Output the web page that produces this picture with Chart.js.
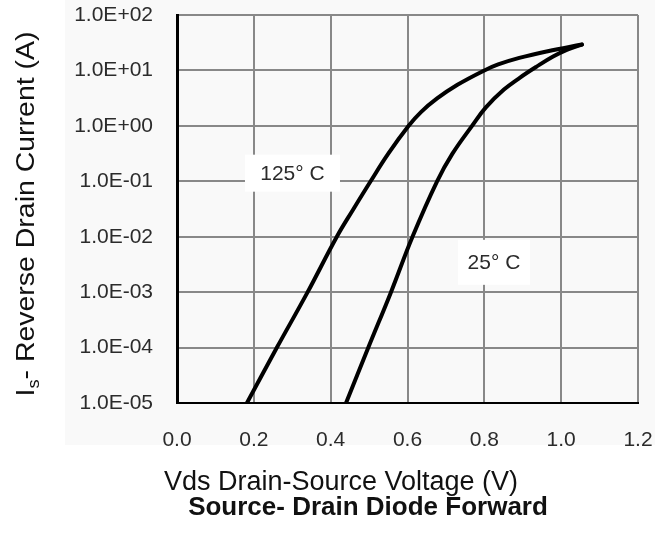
<!DOCTYPE html>
<html>
<head>
<meta charset="utf-8">
<title>Source- Drain Diode Forward</title>
<script src="https://cdn.jsdelivr.net/npm/chart.js@4.4.1/dist/chart.umd.min.js"></script>
<style>
  html, body { margin: 0; padding: 0; background: #fff; }
  canvas { display: block; }
</style>
</head>
<body>
<canvas id="diode" width="672" height="549"></canvas>
<script>
// Source-drain diode forward curve: Is (log) vs Vds at 125 C and 25 C

const vdsTicks = [0, 0.2, 0.4, 0.6, 0.8, 1.0, 1.2];
const isTicks = [1e-5, 1e-4, 1e-3, 1e-2, 1e-1, 1, 10, 100];

const vds125 = [0.182, 0.260, 0.340, 0.416, 0.459, 0.504, 0.550, 0.603, 0.635, 0.677, 0.730, 0.796, 0.836, 0.891, 0.965, 1.054];
const is125  = [1e-5, 1e-4, 1e-3, 1e-2, 0.0313, 0.1, 0.315, 1.0, 1.77, 3.12, 5.51, 9.69, 12.8, 16.8, 22.2, 29.3];

const vds25 = [0.440, 0.498, 0.557, 0.613, 0.677, 0.717, 0.768, 0.804, 0.851, 0.893, 0.936, 0.979, 1.016, 1.054];
const is25  = [1e-5, 1e-4, 1e-3, 1e-2, 0.1, 0.315, 1.0, 2.15, 4.51, 7.43, 11.7, 17.8, 23.8, 29.3];

// curve tags, placed in data units
const curveTags = ['125° C', '25° C'];
const tagVds = [0.3006, 0.825];
const tagIs = [0.14, 0.00345];

const FONT = "'Liberation Sans', Arial, Helvetica, sans-serif";
const INK = '#2b2b2b';

function pts(xs, ys) {
  return xs.map((x, i) => ({ x: x, y: ys[i] }));
}

function sci(v) {
  const e = Math.round(Math.log10(v));
  const m = v / Math.pow(10, e);
  return m.toFixed(1) + 'E' + (e < 0 ? '-' : '+') + String(Math.abs(e)).padStart(2, '0');
}

const decorations = {
  id: 'decorations',
  beforeDraw(chart) {
    const ctx = chart.ctx;
    ctx.save();
    ctx.fillStyle = '#f9f9f9';
    ctx.fillRect(65, 0, 590, 445);
    ctx.restore();
  },
  afterDatasetsDraw(chart) {
    const ctx = chart.ctx;
    const xs = chart.scales.x, ys = chart.scales.y;
    const boxes = [{ w: 95, h: 37 }, { w: 72, h: 45 }];
    ctx.save();
    ctx.font = '21px ' + FONT;
    ctx.textAlign = 'center';
    ctx.textBaseline = 'middle';
    curveTags.forEach((t, i) => {
      const cx = xs.getPixelForValue(tagVds[i]);
      const cy = ys.getPixelForValue(tagIs[i]);
      ctx.fillStyle = '#fff';
      ctx.fillRect(cx - boxes[i].w / 2, cy - boxes[i].h / 2, boxes[i].w, boxes[i].h);
      ctx.fillStyle = INK;
      ctx.fillText(t, cx, cy + 1);
    });
    ctx.restore();
  },
  afterDraw(chart) {
    const ctx = chart.ctx;
    ctx.save();
    ctx.fillStyle = '#111';

    // x axis title
    ctx.font = '27px ' + FONT;
    ctx.textAlign = 'center';
    ctx.textBaseline = 'alphabetic';
    ctx.fillText('Vds Drain-Source Voltage (V)', 341, 490);

    // chart title
    ctx.font = 'bold 26px ' + FONT;
    ctx.fillText('Source- Drain Diode Forward', 368, 515);

    // y axis title, with subscript s
    const main = '25px ' + FONT, sub = '16px ' + FONT;
    const rest = '- Reverse Drain Current (A)';
    ctx.font = main;
    const w1 = ctx.measureText('I').width;
    const w3 = ctx.measureText(rest).width;
    ctx.font = sub;
    const w2 = ctx.measureText('s').width;
    const total = w1 + w2 + w3;
    const sx = 365 / total;
    ctx.translate(34, 214);
    ctx.rotate(-Math.PI / 2);
    ctx.scale(sx, 1);
    ctx.textAlign = 'left';
    const x0 = -total / 2;
    ctx.font = main;
    ctx.fillText('I', x0, 0);
    ctx.font = sub;
    ctx.fillText('s', x0 + w1, 5);
    ctx.font = main;
    ctx.fillText(rest, x0 + w1 + w2, 0);
    ctx.restore();
  }
};

const curve = {
  borderColor: '#000',
  borderWidth: 4,
  pointRadius: 0,
  fill: false,
  tension: 0.4,
  borderCapStyle: 'round',
  borderJoinStyle: 'round'
};

new Chart(document.getElementById('diode'), {
  type: 'line',
  data: {
    datasets: [
      Object.assign({ label: '125° C', data: pts(vds125, is125) }, curve),
      Object.assign({ label: '25° C', data: pts(vds25, is25) }, curve)
    ]
  },
  options: {
    responsive: false,
    animation: false,
    layout: { padding: { top: 15, right: 34, bottom: 0, left: 0 } },
    plugins: { legend: { display: false }, tooltip: { enabled: false } },
    scales: {
      x: {
        type: 'linear',
        min: 0,
        max: 1.2,
        afterBuildTicks: s => { s.ticks = vdsTicks.map(v => ({ value: v })); },
        afterFit: s => { s.height = 146; s.paddingLeft = 0; s.paddingRight = 0; },
        grid: { color: '#888', lineWidth: 2, drawTicks: false },
        border: { color: '#000', width: 2 },
        ticks: {
          padding: 25,
          color: INK,
          font: { family: FONT, size: 21 },
          maxRotation: 0,
          callback: v => Number(v).toFixed(1)
        }
      },
      y: {
        type: 'logarithmic',
        min: 1e-5,
        max: 100,
        afterBuildTicks: s => { s.ticks = isTicks.map(v => ({ value: v })); },
        afterFit: s => { s.width = 177; s.paddingTop = 0; s.paddingBottom = 0; },
        grid: { color: '#888', lineWidth: 2, drawTicks: false },
        border: { color: '#000', width: 3 },
        ticks: {
          padding: 24,
          color: INK,
          font: { family: FONT, size: 21 },
          callback: v => sci(v)
        }
      }
    }
  },
  plugins: [decorations]
});
</script>
</body>
</html>
